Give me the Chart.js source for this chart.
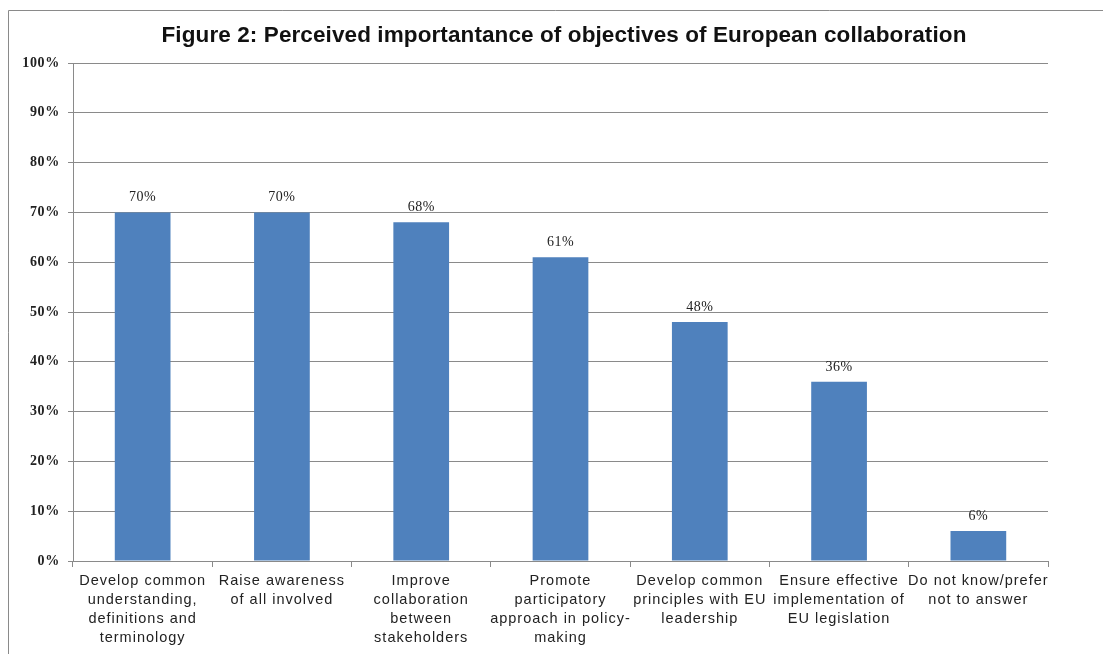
<!DOCTYPE html>
<html>
<head>
<meta charset="utf-8">
<script src="https://cdn.jsdelivr.net/npm/chart.js@4/dist/chart.umd.min.js"></script>
<style>
html,body{margin:0;padding:0;background:#fff;}
#wrap{width:1103px;height:654px;position:relative;}
</style>
</head>
<body>
<div id="wrap"><canvas id="c" width="1103" height="654"></canvas></div>
<script>
const titleText = "Figure 2: Perceived importantance of objectives of European collaboration";
const categories = [
  ["Develop common","understanding,","definitions and","terminology"],
  ["Raise awareness","of all involved"],
  ["Improve","collaboration","between","stakeholders"],
  ["Promote","participatory","approach in policy-","making"],
  ["Develop common","principles with EU","leadership"],
  ["Ensure effective","implementation of","EU legislation"],
  ["Do not know/prefer","not to answer"]
];
const values = [70, 70, 68, 61, 48, 36, 6];
const yTicks = [0,10,20,30,40,50,60,70,80,90,100];

function withSpacing(obj, method, sp, dx) {
  if (!obj || obj['__patched_' + method]) return;
  const orig = obj[method];
  obj[method] = function(...args) {
    const ctx = this.ctx;
    ctx.save();
    ctx.letterSpacing = sp;
    if (dx) ctx.translate(dx, 0);
    const r = orig.apply(this, args);
    ctx.restore();
    return r;
  };
  obj['__patched_' + method] = true;
}

const frame = {
  id: 'frame',
  beforeDraw(chart) {
    const ctx = chart.ctx;
    withSpacing(chart.scales.x, 'drawLabels', '1px');
    withSpacing(chart.scales.y, 'drawLabels', '0.7px');
    withSpacing(chart.titleBlock, 'draw', '0.1px', 40);
    ctx.save();
    ctx.fillStyle = '#fff';
    ctx.fillRect(0,0,chart.width,chart.height);
    ctx.strokeStyle = '#8a8a8a';
    ctx.lineWidth = 1;
    ctx.beginPath();
    ctx.moveTo(8.5, chart.height);
    ctx.lineTo(8.5, 10.5);
    ctx.lineTo(chart.width, 10.5);
    ctx.stroke();
    ctx.restore();
  }
};
const dataLabels = {
  id: 'dataLabels',
  afterDatasetsDraw(chart) {
    const ctx = chart.ctx;
    const meta = chart.getDatasetMeta(0);
    ctx.save();
    ctx.letterSpacing = '0.5px';
    ctx.font = '14px "Liberation Serif", "Times New Roman", serif';
    ctx.fillStyle = '#222';
    ctx.textAlign = 'center';
    ctx.textBaseline = 'alphabetic';
    meta.data.forEach((bar, i) => {
      ctx.fillText(values[i] + '%', bar.x, bar.y - 11);
    });
    ctx.restore();
  }
};

new Chart(document.getElementById('c'), {
  type: 'bar',
  data: {
    labels: categories,
    datasets: [{
      data: values,
      backgroundColor: '#4F81BD',
      borderWidth: 0,
      categoryPercentage: 1.0,
      barPercentage: 0.4
    }]
  },
  options: {
    responsive: false,
    animation: false,
    layout: { padding: { left: 0, right: 55, top: 0, bottom: 0 } },
    plugins: {
      legend: { display: false },
      tooltip: { enabled: false },
      title: {
        display: true,
        text: titleText,
        color: '#111',
        font: { family: '"Liberation Sans", Arial, sans-serif', size: 22.5, weight: 'bold', lineHeight: 1.2 },
        padding: { top: 22.5, bottom: 13.5 }
      }
    },
    scales: {
      x: {
        offset: true,
        grid: { display: true, drawOnChartArea: false, offset: true, tickLength: 6, color: '#8a8a8a' },
        border: { color: '#8a8a8a' },
        ticks: {
          autoSkip: false, maxRotation: 0, minRotation: 0,
          color: '#222',
          padding: 5,
          font: { family: '"Liberation Sans", Arial, sans-serif', size: 14.5, lineHeight: 1.31 }
        },
        afterFit(s) { s.height = 93; }
      },
      y: {
        min: 0, max: 100,
        afterBuildTicks(s) { s.ticks = yTicks.map(v => ({ value: v })); },
        grid: { color: '#8a8a8a', tickLength: 5 },
        border: { color: '#8a8a8a' },
        ticks: {
          color: '#222',
          padding: 8,
          font: { family: '"Liberation Serif", "Times New Roman", serif', size: 14, weight: 'bold' },
          callback: v => v + '%'
        },
        afterFit(s) { s.width = 73; }
      }
    }
  },
  plugins: [frame, dataLabels]
});
</script>
</body>
</html>
